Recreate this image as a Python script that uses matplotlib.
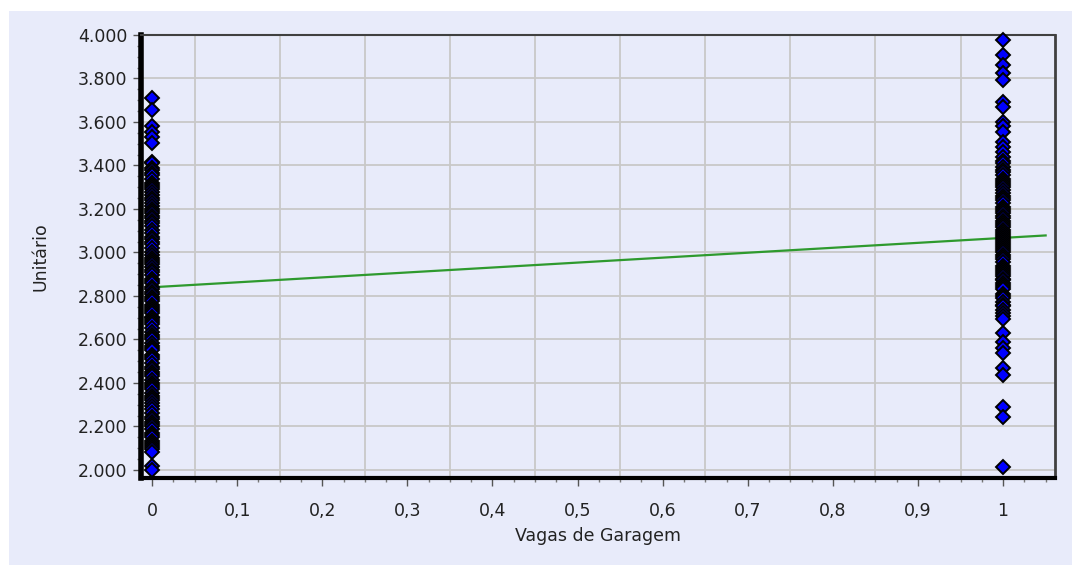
import numpy as np
import matplotlib
matplotlib.use('Agg')
import matplotlib.pyplot as plt
from matplotlib.patches import Rectangle
from matplotlib.ticker import FixedLocator, FuncFormatter, MultipleLocator

# valores (Unitario x Vagas de Garagem)
unit_vaga0 = [3.71, 3.655, 3.58, 3.555, 3.53, 3.505, 3.418, 3.41, 3.39, 3.38, 3.365,
              3.355, 3.34, 3.32, 3.31, 3.30, 3.29, 3.28, 3.265, 3.25, 3.24, 3.226,
              3.215, 3.20, 3.19, 3.18, 3.17, 3.16, 3.145, 3.135, 3.12, 3.104, 3.09,
              3.073, 3.06, 3.05, 3.04, 3.02, 3.004, 2.99, 2.975, 2.965, 2.955, 2.945,
              2.935, 2.92, 2.91, 2.897, 2.88, 2.87, 2.86, 2.843, 2.83, 2.82, 2.81,
              2.797, 2.785, 2.775, 2.76, 2.75, 2.74, 2.73, 2.72, 2.705, 2.70, 2.69,
              2.68, 2.67, 2.655, 2.636, 2.62, 2.61, 2.60, 2.584, 2.57, 2.56, 2.55,
              2.53, 2.52, 2.51, 2.49, 2.475, 2.464, 2.45, 2.44, 2.43, 2.414, 2.40,
              2.39, 2.38, 2.37, 2.353, 2.34, 2.33, 2.32, 2.31, 2.295, 2.28, 2.26,
              2.245, 2.235, 2.22, 2.21, 2.20, 2.19, 2.17, 2.16, 2.15, 2.135, 2.124,
              2.115, 2.107, 2.095, 2.084, 2.02, 2.00]
unit_vaga1 = [3.977, 3.908, 3.862, 3.824, 3.793, 3.693, 3.67, 3.60, 3.58, 3.555, 3.51,
              3.486, 3.46, 3.44, 3.42, 3.41, 3.395, 3.38, 3.37, 3.355, 3.34, 3.33,
              3.32, 3.31, 3.30, 3.285, 3.272, 3.26, 3.25, 3.24, 3.226, 3.21, 3.20,
              3.19, 3.18, 3.17, 3.16, 3.145, 3.134, 3.125, 3.115, 3.105, 3.096, 3.085,
              3.075, 3.065, 3.057, 3.05, 3.04, 3.03, 3.02, 3.01, 3.00, 2.99, 2.98,
              2.97, 2.955, 2.94, 2.927, 2.92, 2.91, 2.90, 2.89, 2.88, 2.874, 2.86,
              2.85, 2.84, 2.83, 2.81, 2.80, 2.79, 2.774, 2.76, 2.755, 2.736, 2.72,
              2.71, 2.693, 2.628, 2.59, 2.56, 2.536, 2.467, 2.437, 2.291, 2.245, 2.015]
reta_x = [0, 1.05]
intercepto = 2.84
inclinacao = 0.227

fundo = '#E8EBFA'

fig = plt.figure(figsize=(10.72, 5.65), dpi=100)
fig.patches.append(Rectangle((9 / 1072, 0), 1, 1 - 11 / 565, transform=fig.transFigure,
                             facecolor=fundo, edgecolor='none', zorder=-10))

ax = fig.add_axes([141 / 1072, 1 - 478 / 565, (1055 - 141) / 1072, (478 - 35) / 565])
ax.set_facecolor(fundo)

x0 = np.zeros(len(unit_vaga0))
x1 = np.ones(len(unit_vaga1))
ax.plot(x0, unit_vaga0, 'D', ms=7.5, mfc='#0000FF', mec='black', mew=1.4, zorder=3, clip_on=False)
ax.plot(x1, unit_vaga1, 'D', ms=7.5, mfc='#0000FF', mec='black', mew=1.4, zorder=3, clip_on=False)

rx = np.array(reta_x)
ax.plot(rx, intercepto + inclinacao * rx, color='#2E9A2E', lw=1.6, zorder=2)

ax.set_xlim(-0.013, 1.061)
ax.set_ylim(1.963, 4.0)

ax.xaxis.set_major_locator(FixedLocator(np.arange(0, 1.01, 0.1)))
ax.xaxis.set_minor_locator(MultipleLocator(0.025))
ax.yaxis.set_major_locator(FixedLocator(np.arange(2.0, 4.01, 0.2)))
ax.yaxis.set_minor_locator(MultipleLocator(0.05))
ax.xaxis.set_major_formatter(FuncFormatter(lambda v, p: ('%g' % round(v, 1)).replace('.', ',')))
ax.yaxis.set_major_formatter(FuncFormatter(lambda v, p: '%.3f' % v))

# grade: vertical nos meios (0,05 ; 0,15 ...), horizontal nos ticks
for gx in np.arange(0.05, 1.0, 0.1):
    ax.axvline(gx, color='#C8C8C8', lw=1.3, zorder=0)
for gy in np.arange(2.0, 4.0, 0.2):
    ax.axhline(gy, color='#C8C8C8', lw=1.3, zorder=0)

ax.tick_params(which='major', length=6, width=1, color='#555555', labelsize=12.5,
               labelcolor='#222222', pad=4)
ax.tick_params(axis='x', which='major', pad=11)
ax.tick_params(which='minor', length=3, width=1, color='#777777')

ax.spines['left'].set_linewidth(4)
ax.spines['left'].set_color('black')
ax.spines['bottom'].set_linewidth(3)
ax.spines['bottom'].set_color('black')
ax.spines['top'].set_linewidth(1.5)
ax.spines['top'].set_color('#404040')
ax.spines['right'].set_linewidth(2)
ax.spines['right'].set_color('#404040')

ax.set_xlabel('Vagas de Garagem', fontsize=12.5, color='#222222', labelpad=5)
ax.set_ylabel('Unitário', fontsize=12.5, color='#222222', labelpad=20)

fig.savefig('out.png', dpi=100, facecolor='white')
